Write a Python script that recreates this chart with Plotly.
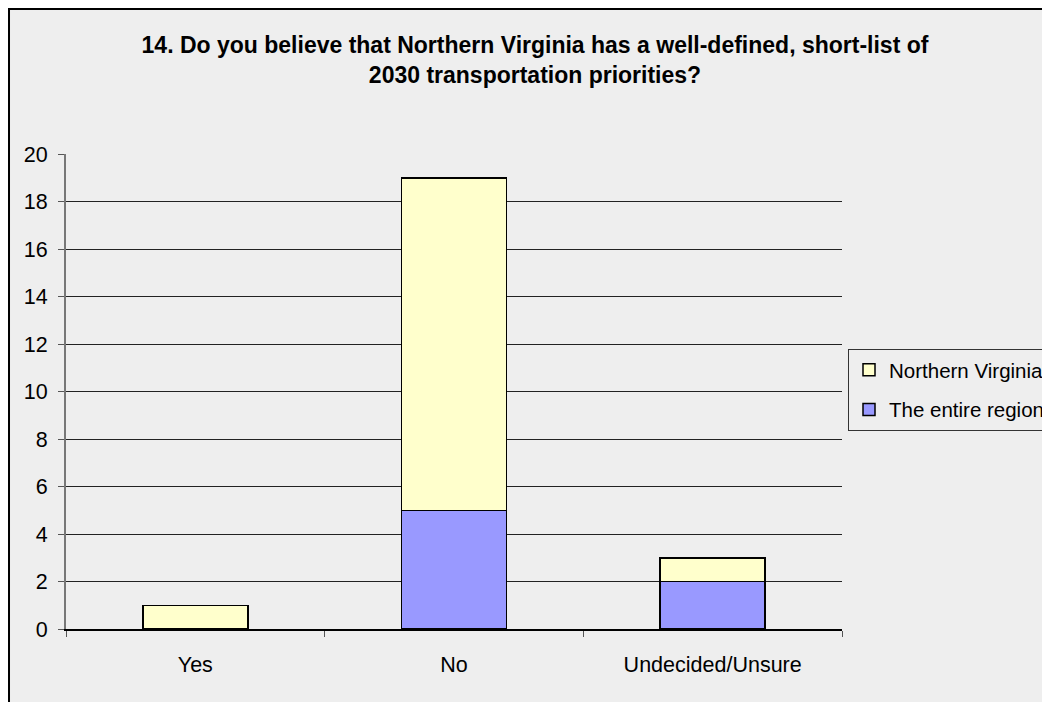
import plotly.graph_objects as go

categories = ["Yes", "No", "Undecided/Unsure"]
entire_region = [0, 5, 2]
northern_virginia = [1, 14, 1]
y_ticks = [0, 2, 4, 6, 8, 10, 12, 14, 16, 18, 20]

FONT = "Liberation Sans, Arial, sans-serif"
BG = "#eeeeee"

fig = go.Figure()
fig.add_trace(go.Bar(
    x=categories, y=entire_region, name="The entire region",
    marker=dict(color="#9999ff", line=dict(color="black", width=1.5)),
    legendgroup="b", legendrank=2,
))
fig.add_trace(go.Bar(
    x=categories, y=northern_virginia, name="Northern Virginia",
    marker=dict(color="#ffffcc", line=dict(color="black", width=1.5)),
    legendgroup="a", legendrank=1,
))

L, R, T, B = 58, 216, 146, 81
W, H = 1050, 702
pw, ph = W - L - R, H - T - B

fig.update_layout(
    width=W, height=H,
    barmode="stack", bargap=0.594,
    paper_bgcolor=BG, plot_bgcolor=BG,
    margin=dict(l=L, r=R, t=T, b=B, autoexpand=False),
    font=dict(family=FONT, size=21.5, color="black"),
    title=dict(
        text="<b>14. Do you believe that Northern Virginia has a well-defined, short-list of<br>2030 transportation priorities?</b>",
        x=527 / W, xanchor="center", y=1 - 45 / H, yanchor="middle",
        font=dict(family=FONT, size=23, color="black"),
    ),
    legend=dict(
        x=(840 - L) / pw, xanchor="left",
        y=(H - B - 341) / ph, yanchor="top",
        bgcolor=BG, bordercolor="#333333", borderwidth=1,
        font=dict(family=FONT, size=20.5),
        traceorder="grouped", tracegroupgap=10, itemwidth=30,
    ),
    showlegend=True,
)
fig.update_xaxes(
    type="category", tickson="boundaries", ticks="outside", ticklen=6,
    tickcolor="#555555", showline=True, linecolor="black", linewidth=1.5,
    showgrid=False, tickfont=dict(size=21.5), range=[-0.5, 2.5],
    ticklabelstandoff=15,
)
fig.update_yaxes(
    range=[0, 20], tickvals=y_ticks, ticks="outside", ticklen=6,
    tickcolor="#555555", showline=True, linecolor="#777777", linewidth=2,
    showgrid=True, gridcolor="#222222", gridwidth=1, zeroline=False,
    tickfont=dict(size=21.5), ticklabelstandoff=6,
)

# figure border
fig.add_shape(type="rect", xref="paper", yref="paper",
              x0=-L / pw + 0.0013, x1=1 + R / pw - 0.0013,
              y0=-B / ph + 0.002, y1=1 + T / ph - 0.002,
              line=dict(color="black", width=2), fillcolor="rgba(0,0,0,0)")

fig.write_html("out.html")
